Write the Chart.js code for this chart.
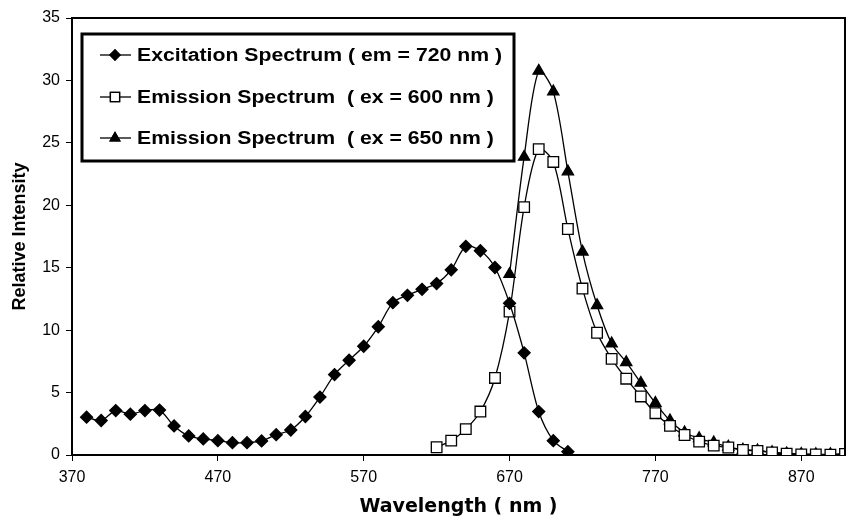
<!DOCTYPE html>
<html>
<head>
<meta charset="utf-8">
<script src="https://cdn.jsdelivr.net/npm/chart.js@4.4.1/dist/chart.umd.min.js"></script>
<style>
  html, body { margin: 0; padding: 0; background: #fff; }
  #wrap { width: 846px; height: 523px; }
</style>
</head>
<body>
<div id="wrap"><canvas id="myChart" width="846" height="523"></canvas></div>
<script>
// wavelengths (nm)
const excitationWl = [380, 390, 400, 410, 420, 430, 440, 450, 460, 470, 480, 490, 500, 510, 520, 530, 540,
  550, 560, 570, 580, 590, 600, 610, 620, 630, 640, 650, 660, 670, 680, 690, 700, 710];
const excitationVals = [3.03, 2.76, 3.56, 3.27, 3.56, 3.6, 2.33, 1.53, 1.29, 1.15, 0.99, 0.99, 1.13, 1.63,
  2.0, 3.08, 4.64, 6.44, 7.59, 8.71, 10.27, 12.2, 12.79, 13.27, 13.73, 14.83, 16.71, 16.36, 15.02, 12.15,
  8.18, 3.48, 1.15, 0.27];

const em600Wl = [620, 630, 640, 650, 660, 670, 680, 690, 700, 710, 720, 730, 740, 750, 760, 770, 780, 790,
  800, 810, 820, 830, 840, 850, 860, 870, 880, 890, 900];
const em600Vals = [0.62, 1.15, 2.07, 3.48, 6.17, 11.48, 19.85, 24.5, 23.47, 18.1, 13.33, 9.79, 7.7, 6.11,
  4.69, 3.35, 2.33, 1.6, 1.07, 0.75, 0.6, 0.4, 0.33, 0.2, 0.1, 0.05, 0.04, 0.03, 0.08];

const em650Wl = [670, 680, 690, 700, 710, 720, 730, 740, 750, 760, 770, 780, 790, 800, 810, 820, 830, 840,
  850, 860, 870, 880, 890, 900];
const em650Vals = [14.48, 23.87, 30.76, 29.1, 22.7, 16.27, 11.99, 8.93, 7.43, 5.77, 4.16, 2.76, 1.8, 1.34,
  0.99, 0.65, 0.42, 0.36, 0.22, 0.12, 0.07, 0.06, 0.05, 0.1];

const seriesLabels = [
  "Excitation Spectrum ( em = 720 nm )",
  "Emission Spectrum  ( ex = 600 nm )",
  "Emission Spectrum  ( ex = 650 nm )"
];
const xTicks = [370, 470, 570, 670, 770, 870];

const FONT = "Arial, 'Liberation Sans', sans-serif";

function pts(xs, ys) {
  return xs.map((x, i) => ({ x, y: ys[i] }));
}

// frame on top/right + boxed legend
const framePlugin = {
  id: 'frame',
  afterDatasetsDraw(c) {
    const a = c.chartArea, g = c.ctx;
    g.save();
    g.strokeStyle = '#000';
    g.lineWidth = 2;
    g.beginPath();
    g.moveTo(a.left, a.top);
    g.lineTo(a.right, a.top);
    g.lineTo(a.right, a.bottom);
    g.stroke();

    // legend box
    g.lineWidth = 3;
    g.fillStyle = '#fff';
    g.fillRect(82, 34, 432, 127);
    g.strokeRect(82, 34, 432, 127);

    g.font = "bold 18px " + FONT;
    g.textBaseline = 'middle';
    const rows = [55, 97, 138];
    const textW = 365;
    c.data.datasets.forEach((ds, i) => {
      const y = rows[i];
      g.strokeStyle = '#000';
      g.lineWidth = 1.3;
      g.beginPath();
      g.moveTo(100, y);
      g.lineTo(131, y);
      g.stroke();
      Chart.helpers.drawPoint(g, {
        pointStyle: ds.pointStyle,
        radius: ds.pointRadius - 1,
        borderWidth: 1.3
      }, 115, y);
      g.fillStyle = ds.pointBackgroundColor;
      g.fill();
      g.stroke();
      g.fillStyle = '#000';
      // scan is a bit wide, so stretch text horizontally
      const w = g.measureText(seriesLabels[0]).width;
      g.save();
      g.translate(137, y + 1);
      g.scale(textW / w, 1);
      g.fillText(seriesLabels[i], 0, 0);
      g.restore();
    });
    g.restore();
  }
};

const ctx = document.getElementById('myChart').getContext('2d');
new Chart(ctx, {
  type: 'scatter',
  data: {
    datasets: [
      {
        label: seriesLabels[0], data: pts(excitationWl, excitationVals),
        showLine: true, tension: 0.3, borderColor: '#000', borderWidth: 1.3,
        pointStyle: 'rectRot', pointRadius: 6, pointBackgroundColor: '#000', pointBorderColor: '#000'
      },
      {
        label: seriesLabels[1], data: pts(em600Wl, em600Vals),
        showLine: true, tension: 0.3, borderColor: '#000', borderWidth: 1.3,
        pointStyle: 'rect', pointRadius: 7.5, pointBackgroundColor: '#fff', pointBorderColor: '#000',
        pointBorderWidth: 1.3
      },
      {
        label: seriesLabels[2], data: pts(em650Wl, em650Vals),
        showLine: true, tension: 0.3, borderColor: '#000', borderWidth: 1.3,
        pointStyle: 'triangle', pointRadius: 6.5, pointBackgroundColor: '#000', pointBorderColor: '#000'
      }
    ]
  },
  options: {
    responsive: false,
    animation: false,
    layout: { autoPadding: false, padding: { left: 0, right: 1, top: 18, bottom: 0 } },
    plugins: { legend: { display: false }, tooltip: { enabled: false } },
    scales: {
      x: {
        type: 'linear', min: 370, max: 900,
        afterBuildTicks: s => { s.ticks = xTicks.map(v => ({ value: v })); },
        afterFit: s => { s.height = 68; s.paddingLeft = 0; s.paddingRight = 0; },
        border: { color: '#000', width: 2 },
        grid: { drawOnChartArea: false, tickLength: 6, tickColor: '#000', tickWidth: 1 },
        ticks: { color: '#000', font: { family: FONT, size: 16 }, padding: 7, maxRotation: 0 },
        title: { display: true, text: 'Wavelength ( nm )', color: '#000',
          font: { family: "'DejaVu Sans', sans-serif", size: 19, weight: 'bold' },
          padding: { top: 0, bottom: 5 } }
      },
      y: {
        min: 0, max: 35,
        ticks: { stepSize: 5, color: '#000', font: { family: FONT, size: 16 }, padding: 6 },
        afterFit: s => { s.width = 72; },
        border: { color: '#000', width: 2 },
        grid: { drawOnChartArea: false, tickLength: 6, tickColor: '#000', tickWidth: 1 },
        title: { display: true, text: 'Relative Intensity', color: '#000',
          font: { family: FONT, size: 18, weight: 'bold' }, padding: { top: 9, bottom: 0 } }
      }
    }
  },
  plugins: [framePlugin]
});
</script>
</body>
</html>
